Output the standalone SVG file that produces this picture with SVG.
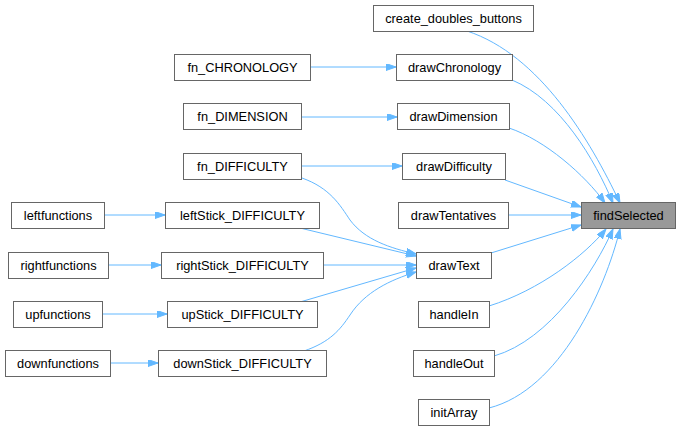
<svg xmlns="http://www.w3.org/2000/svg" width="680" height="431" viewBox="0 0 680 431">
<style>
.n rect{fill:#fff;stroke:#666;stroke-width:1}
.n text{font-family:"Liberation Sans",Arial,sans-serif;font-size:12.8px;fill:#000;text-anchor:middle}
#n_findSelected rect{fill:#999}
.e path{fill:none;stroke:#63b8ff;stroke-width:1}
</style>
<defs>
<marker id="ah" markerWidth="11" markerHeight="8" refX="10" refY="3.5" orient="auto" markerUnits="userSpaceOnUse">
<path d="M0,0 L10,3.5 L0,7 Z" fill="#63b8ff" stroke="#63b8ff" stroke-width="1"/>
</marker>
</defs>
<rect width="680" height="431" fill="#fff"/>
<g class="e">
<path marker-end="url(#ah)" d="M310,67 H396"/>
<path marker-end="url(#ah)" d="M301,117 H397"/>
<path marker-end="url(#ah)" d="M301,166 H402"/>
<path marker-end="url(#ah)" d="M302,178 C330,188 340,205 350,220 C365,240 390,248 416,254"/>
<path marker-end="url(#ah)" d="M300,228 L416,256"/>
<path marker-end="url(#ah)" d="M323,265 H416"/>
<path marker-end="url(#ah)" d="M300,302 L416,268"/>
<path marker-end="url(#ah)" d="M304,351 C330,342 340,330 350,315 C365,292 390,280 416,272"/>
<path marker-end="url(#ah)" d="M104,215 H165"/>
<path marker-end="url(#ah)" d="M108,265 H161"/>
<path marker-end="url(#ah)" d="M102,314 H167"/>
<path marker-end="url(#ah)" d="M110,363 H158"/>
<path marker-end="url(#ah)" d="M467,31 C540,55 590,140 620,203"/>
<path marker-end="url(#ah)" d="M512,80 C560,100 595,160 613,203"/>
<path marker-end="url(#ah)" d="M509,128 C545,140 585,175 605,203"/>
<path marker-end="url(#ah)" d="M505,180 L581,207"/>
<path marker-end="url(#ah)" d="M508,215 H581"/>
<path marker-end="url(#ah)" d="M491,253 L581,225"/>
<path marker-end="url(#ah)" d="M489,306 C540,290 585,255 606,229"/>
<path marker-end="url(#ah)" d="M494,356 C550,340 595,270 613,229"/>
<path marker-end="url(#ah)" d="M489,408 C560,390 605,290 620,229"/>
</g>
<g id="n_create_doubles_buttons" class="n"><rect x="373.5" y="5.5" width="160" height="26"/><text x="453.5" y="23">create_doubles_buttons</text></g>
<g id="n_drawChronology" class="n"><rect x="396.5" y="54.5" width="116" height="26"/><text x="454.5" y="72">drawChronology</text></g>
<g id="n_drawDimension" class="n"><rect x="397.5" y="103.5" width="112" height="26"/><text x="453.5" y="121">drawDimension</text></g>
<g id="n_fn_CHRONOLOGY" class="n"><rect x="174.5" y="54.5" width="136" height="26"/><text x="242.5" y="72">fn_CHRONOLOGY</text></g>
<g id="n_fn_DIMENSION" class="n"><rect x="183.5" y="103.5" width="118" height="26"/><text x="242.5" y="121">fn_DIMENSION</text></g>
<g id="n_fn_DIFFICULTY" class="n"><rect x="183.5" y="153.5" width="118" height="26"/><text x="242.5" y="171">fn_DIFFICULTY</text></g>
<g id="n_drawDifficulty" class="n"><rect x="402.5" y="153.5" width="103" height="26"/><text x="454" y="171">drawDifficulty</text></g>
<g id="n_leftfunctions" class="n"><rect x="11.5" y="202.5" width="93" height="26"/><text x="58" y="220">leftfunctions</text></g>
<g id="n_leftStick_DIFFICULTY" class="n"><rect x="165.5" y="202.5" width="154" height="26"/><text x="242.5" y="220">leftStick_DIFFICULTY</text></g>
<g id="n_drawTentatives" class="n"><rect x="398.5" y="202.5" width="110" height="26"/><text x="453.5" y="220">drawTentatives</text></g>
<g id="n_findSelected" class="n"><rect x="581.5" y="202.5" width="94" height="26"/><text x="628.5" y="220">findSelected</text></g>
<g id="n_rightfunctions" class="n"><rect x="8.5" y="252.5" width="100" height="26"/><text x="58.5" y="270">rightfunctions</text></g>
<g id="n_rightStick_DIFFICULTY" class="n"><rect x="161.5" y="252.5" width="162" height="26"/><text x="242.5" y="270">rightStick_DIFFICULTY</text></g>
<g id="n_drawText" class="n"><rect x="416.5" y="252.5" width="75" height="26"/><text x="454" y="270">drawText</text></g>
<g id="n_upfunctions" class="n"><rect x="13.5" y="301.5" width="89" height="26"/><text x="58" y="319">upfunctions</text></g>
<g id="n_upStick_DIFFICULTY" class="n"><rect x="167.5" y="301.5" width="150" height="26"/><text x="242.5" y="319">upStick_DIFFICULTY</text></g>
<g id="n_handleIn" class="n"><rect x="418.5" y="301.5" width="71" height="26"/><text x="454" y="319">handleIn</text></g>
<g id="n_downfunctions" class="n"><rect x="5.5" y="350.5" width="105" height="26"/><text x="58" y="368">downfunctions</text></g>
<g id="n_downStick_DIFFICULTY" class="n"><rect x="158.5" y="350.5" width="168" height="26"/><text x="242.5" y="368">downStick_DIFFICULTY</text></g>
<g id="n_handleOut" class="n"><rect x="413.5" y="350.5" width="81" height="26"/><text x="454" y="368">handleOut</text></g>
<g id="n_initArray" class="n"><rect x="418.5" y="399.5" width="71" height="26"/><text x="454" y="417">initArray</text></g>
</svg>
